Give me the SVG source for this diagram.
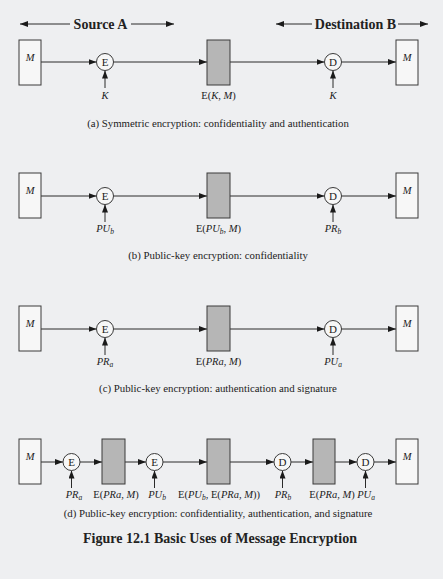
<svg xmlns="http://www.w3.org/2000/svg" width="443" height="579" viewBox="0 0 443 579">
<defs>
<marker id="ah" markerUnits="userSpaceOnUse" markerWidth="8" markerHeight="6" refX="8" refY="3" orient="auto">
<path d="M0,0 L8,3 L0,6 z" fill="#1a1a1a"/>
</marker>
<style>
.bg{fill:#eeeff1}
.box{fill:#f7f7f7;stroke:#3a3a3a;stroke-width:1}
.enc{fill:#b6b6b6;stroke:#3a3a3a;stroke-width:1}
.op{fill:#f7f7f7;stroke:#3a3a3a;stroke-width:1}
.ln{stroke:#2a2a2a;stroke-width:1;fill:none;marker-end:url(#ah)}
text{font-family:"Liberation Serif","Times New Roman",serif;fill:#222}
.t{font-size:10.5px;text-anchor:middle}
.i{font-style:italic}
.s{font-size:7.5px;font-style:italic}
.cap{font-size:10.8px;text-anchor:middle}
.hd{font-size:14px;font-weight:bold;text-anchor:middle}
.ttl{font-size:14px;font-weight:bold;text-anchor:middle}
.opt{font-size:11px;text-anchor:middle}
</style>
</defs>
<rect class="bg" x="0" y="0" width="443" height="579"/>

<g id="header">
<text class="hd" x="100.5" y="29">Source A</text>
<text class="hd" x="355.5" y="29">Destination B</text>
</g>

<g id="connectors">
<line class="ln" x1="70" y1="24" x2="20" y2="24"/>
<line class="ln" x1="131" y1="24" x2="174" y2="24"/>
<line class="ln" x1="312" y1="24" x2="276" y2="24"/>
<line class="ln" x1="398" y1="24" x2="428" y2="24"/>
<!-- panel a -->
<line class="ln" x1="41" y1="62" x2="96.5" y2="62"/>
<line class="ln" x1="113.5" y1="62" x2="207" y2="62"/>
<line class="ln" x1="230" y1="62" x2="324.5" y2="62"/>
<line class="ln" x1="341.5" y1="62" x2="396" y2="62"/>
<line class="ln" x1="105" y1="88" x2="105" y2="70.5"/>
<line class="ln" x1="333" y1="88" x2="333" y2="70.5"/>
<!-- panel b -->
<line class="ln" x1="41" y1="196" x2="96.5" y2="196"/>
<line class="ln" x1="113.5" y1="196" x2="207" y2="196"/>
<line class="ln" x1="230" y1="196" x2="324.5" y2="196"/>
<line class="ln" x1="341.5" y1="196" x2="396" y2="196"/>
<line class="ln" x1="105" y1="222" x2="105" y2="204.5"/>
<line class="ln" x1="333" y1="222" x2="333" y2="204.5"/>
<!-- panel c -->
<line class="ln" x1="41" y1="329" x2="96.5" y2="329"/>
<line class="ln" x1="113.5" y1="329" x2="207" y2="329"/>
<line class="ln" x1="230" y1="329" x2="324.5" y2="329"/>
<line class="ln" x1="341.5" y1="329" x2="396" y2="329"/>
<line class="ln" x1="105" y1="355" x2="105" y2="337.5"/>
<line class="ln" x1="333" y1="355" x2="333" y2="337.5"/>
<!-- panel d -->
<line class="ln" x1="41" y1="462" x2="63" y2="462"/>
<line class="ln" x1="80" y1="462" x2="102" y2="462"/>
<line class="ln" x1="125" y1="462" x2="146" y2="462"/>
<line class="ln" x1="163" y1="462" x2="207" y2="462"/>
<line class="ln" x1="230" y1="462" x2="274" y2="462"/>
<line class="ln" x1="291" y1="462" x2="313" y2="462"/>
<line class="ln" x1="335" y1="462" x2="357" y2="462"/>
<line class="ln" x1="374" y1="462" x2="396" y2="462"/>
<line class="ln" x1="71.5" y1="488" x2="71.5" y2="470.5"/>
<line class="ln" x1="154.5" y1="488" x2="154.5" y2="470.5"/>
<line class="ln" x1="282.5" y1="488" x2="282.5" y2="470.5"/>
<line class="ln" x1="365.5" y1="488" x2="365.5" y2="470.5"/>
</g>

<!-- panel a -->
<g id="a-src"><rect class="box" x="19" y="40" width="22" height="45"/><text class="t i" x="30" y="61">M</text></g>
<g id="a-enc"><circle class="op" cx="105" cy="62" r="8.5"/><text class="opt" x="105" y="66">E</text><text class="t i" x="105" y="99">K</text></g>
<g id="a-msg"><rect class="enc" x="207" y="40" width="23" height="45"/><text class="t" x="218.5" y="99">E(<tspan class="i">K</tspan>, <tspan class="i">M</tspan>)</text></g>
<g id="a-dec"><circle class="op" cx="333" cy="62" r="8.5"/><text class="opt" x="333" y="66">D</text><text class="t i" x="333" y="99">K</text></g>
<g id="a-dst"><rect class="box" x="396" y="40" width="22" height="45"/><text class="t i" x="407" y="61">M</text></g>
<text class="cap" x="218" y="127">(a) Symmetric encryption: confidentiality and authentication</text>

<!-- panel b -->
<g id="b-src"><rect class="box" x="19" y="173" width="22" height="45"/><text class="t i" x="30" y="194">M</text></g>
<g id="b-enc"><circle class="op" cx="105" cy="196" r="8.5"/><text class="opt" x="105" y="200">E</text><text class="t i" x="105" y="232">PU<tspan class="s" dy="2">b</tspan></text></g>
<g id="b-msg"><rect class="enc" x="207" y="173" width="23" height="45"/><text class="t" x="218.5" y="232">E(<tspan class="i">PU</tspan><tspan class="s" dy="2">b</tspan><tspan dy="-2">, </tspan><tspan class="i">M</tspan>)</text></g>
<g id="b-dec"><circle class="op" cx="333" cy="196" r="8.5"/><text class="opt" x="333" y="200">D</text><text class="t i" x="333" y="232">PR<tspan class="s" dy="2">b</tspan></text></g>
<g id="b-dst"><rect class="box" x="396" y="173" width="22" height="45"/><text class="t i" x="407" y="194">M</text></g>
<text class="cap" x="218" y="259">(b) Public-key encryption: confidentiality</text>

<!-- panel c -->
<g id="c-src"><rect class="box" x="19" y="306" width="22" height="45"/><text class="t i" x="30" y="327">M</text></g>
<g id="c-enc"><circle class="op" cx="105" cy="329" r="8.5"/><text class="opt" x="105" y="333">E</text><text class="t i" x="105" y="365">PR<tspan class="s" dy="2">a</tspan></text></g>
<g id="c-msg"><rect class="enc" x="207" y="306" width="23" height="45"/><text class="t" x="218.5" y="365">E(<tspan class="i">PRa</tspan>, <tspan class="i">M</tspan>)</text></g>
<g id="c-dec"><circle class="op" cx="333" cy="329" r="8.5"/><text class="opt" x="333" y="333">D</text><text class="t i" x="333" y="365">PU<tspan class="s" dy="2">a</tspan></text></g>
<g id="c-dst"><rect class="box" x="396" y="306" width="22" height="45"/><text class="t i" x="407" y="327">M</text></g>
<text class="cap" x="218" y="392">(c) Public-key encryption: authentication and signature</text>

<!-- panel d -->
<g id="d-src"><rect class="box" x="19" y="439" width="22" height="45"/><text class="t i" x="30" y="460">M</text></g>
<g id="d-enc1"><circle class="op" cx="71.5" cy="462" r="8.5"/><text class="opt" x="71.5" y="466">E</text><text class="t i" x="74" y="498">PR<tspan class="s" dy="2">a</tspan></text></g>
<g id="d-msg1"><rect class="enc" x="102" y="439" width="23" height="45"/><text class="t" x="116" y="498">E(<tspan class="i">PRa</tspan>, <tspan class="i">M</tspan>)</text></g>
<g id="d-enc2"><circle class="op" cx="154.5" cy="462" r="8.5"/><text class="opt" x="154.5" y="466">E</text><text class="t i" x="157" y="498">PU<tspan class="s" dy="2">b</tspan></text></g>
<g id="d-msg2"><rect class="enc" x="207" y="439" width="23" height="45"/><text class="t" x="219" y="498">E(<tspan class="i">PU</tspan><tspan class="s" dy="2">b</tspan><tspan dy="-2">, E(</tspan><tspan class="i">PRa</tspan>, <tspan class="i">M</tspan>))</text></g>
<g id="d-dec1"><circle class="op" cx="282.5" cy="462" r="8.5"/><text class="opt" x="282.5" y="466">D</text><text class="t i" x="283" y="498">PR<tspan class="s" dy="2">b</tspan></text></g>
<g id="d-msg3"><rect class="enc" x="313" y="439" width="22" height="45"/><text class="t" x="332" y="498">E(<tspan class="i">PRa</tspan>, <tspan class="i">M</tspan>)</text></g>
<g id="d-dec2"><circle class="op" cx="365.5" cy="462" r="8.5"/><text class="opt" x="365.5" y="466">D</text><text class="t i" x="366" y="498">PU<tspan class="s" dy="2">a</tspan></text></g>
<g id="d-dst"><rect class="box" x="396" y="439" width="22" height="45"/><text class="t i" x="407" y="460">M</text></g>
<text class="cap" x="218" y="517">(d) Public-key encryption: confidentiality, authentication, and signature</text>

<text class="ttl" x="220" y="543">Figure 12.1  Basic Uses of Message Encryption</text>
</svg>
